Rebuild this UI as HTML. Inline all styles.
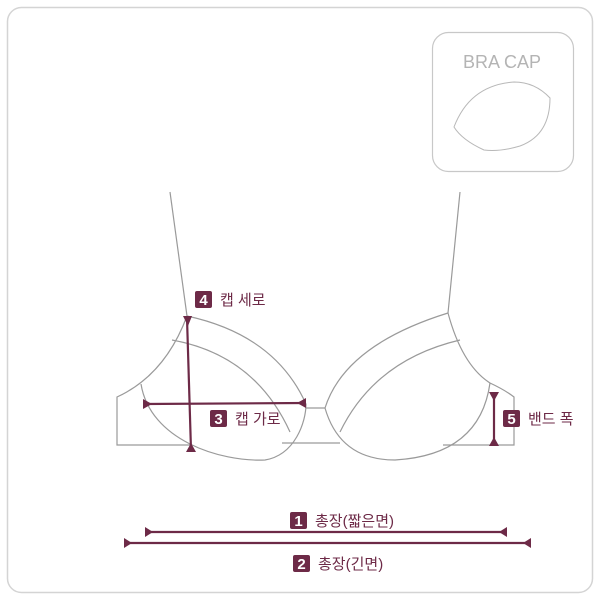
<!DOCTYPE html>
<html><head><meta charset="utf-8"><style>
html,body{margin:0;padding:0;background:#fff;}
svg{display:block;}
text{font-family:"Liberation Sans","Noto Sans CJK KR",sans-serif;}
</style></head><body>
<svg width="600" height="600" viewBox="0 0 600 600" xmlns="http://www.w3.org/2000/svg">
<rect x="7.5" y="7.5" width="585" height="585" rx="14" fill="#fff" stroke="#d4d4d4" stroke-width="1.5"/>
<rect x="432.5" y="32.5" width="141" height="139" rx="16" fill="#fff" stroke="#c8c8c8" stroke-width="1.2"/>
<text x="502" y="68" font-size="18" fill="#b4b4b4" text-anchor="middle">BRA CAP</text>
<path d="M454,127 Q470,85 514,82 Q535,82 550,98 Q550,135 520,146 Q500,152 484,150 Q462,140 454,127 Z" fill="none" stroke="#b8b8b8" stroke-width="1"/>
<g fill="none" stroke="#9a9a9a" stroke-width="1.2">
<path d="M170,192 L187,316"/>
<path d="M187,316 Q275,335 306,404"/>
<path d="M172,340 Q255,355 290,432"/>
<path d="M187,316 Q165,375 117,397 L117,445 L190,445"/>
<path d="M141,384 C150,440 220,462 265,460 C295,455 306,422 306,404"/>
<path d="M282,443 L340,443"/>
<path d="M306,408 L325,408"/>
<path d="M460,192 L448,313"/>
<path d="M325,408 Q345,345 448,313"/>
<path d="M340,432 Q375,360 460,340"/>
<path d="M448,313 Q462,365 490,383 Q505,390 514,397 L514,445 L443,445"/>
<path d="M325,408 Q340,460 395,460 Q480,455 490,383"/>
</g>
<g stroke="#6d2a47" stroke-width="2.2" fill="#6d2a47">
<line x1="187" y1="318" x2="191" y2="450"/>
<polygon points="183,316 192,316 188,326" stroke="none"/>
<polygon points="186,452 196,452 191,443" stroke="none"/>
<line x1="145" y1="404" x2="305" y2="403"/>
<polygon points="143,399 143,409 152,404" stroke="none"/>
<polygon points="306,398 306,408 297,403" stroke="none"/>
<line x1="494" y1="394" x2="494" y2="444"/>
<polygon points="489,392 499,392 494,401" stroke="none"/>
<polygon points="489,446 499,446 494,437" stroke="none"/>
<line x1="146" y1="532" x2="506" y2="532"/>
<polygon points="145,527 145,537 153,532" stroke="none"/>
<polygon points="507,527 507,537 499,532" stroke="none"/>
<line x1="125" y1="543" x2="530" y2="543"/>
<polygon points="124,538 124,548 132,543" stroke="none"/>
<polygon points="531,538 531,548 523,543" stroke="none"/>
</g>
<g font-size="15" font-weight="bold" fill="#fff" text-anchor="middle">
<rect x="195" y="291" width="17" height="17" rx="2" fill="#6d2a47"/><text x="203.5" y="305">4</text>
<rect x="210" y="410" width="17" height="17" rx="2" fill="#6d2a47"/><text x="218.5" y="424">3</text>
<rect x="503" y="410" width="17" height="17" rx="2" fill="#6d2a47"/><text x="511.5" y="424">5</text>
<rect x="290" y="512" width="17" height="17" rx="2" fill="#6d2a47"/><text x="298.5" y="526">1</text>
<rect x="293" y="555" width="17" height="17" rx="2" fill="#6d2a47"/><text x="301.5" y="569">2</text>
</g>
<g font-size="15" fill="#6d2a47">
<text x="220" y="305">캡 세로</text>
<text x="235" y="424">캡 가로</text>
<text x="528" y="424">밴드 폭</text>
<text x="315" y="526">총장(짧은면)</text>
<text x="318" y="569">총장(긴면)</text>
</g>
</svg>
</body></html>
